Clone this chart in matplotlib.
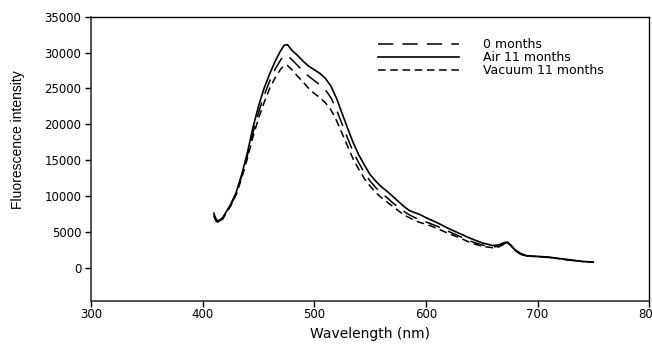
import matplotlib
matplotlib.use("Agg")
import matplotlib.pyplot as plt

wavelength = [410, 412, 414, 418, 425, 430, 435, 440, 445, 450, 455, 460, 465, 470, 473, 476,
              480, 485, 490, 495, 500, 505, 510, 515, 520, 525, 530, 535, 540, 545, 550, 555,
              560, 565, 570, 575, 580, 585, 590, 595, 600, 610, 620, 630, 640, 650, 660, 665,
              670, 673, 676, 680, 685, 690, 700, 710, 720, 730, 740, 750]

air_11 = [7600, 6800, 6500, 7000, 8800, 10500, 13000, 16000, 19500, 22500, 25000, 27000, 28800, 30300, 31000, 31100,
          30300, 29600, 28800, 28100, 27600, 27100, 26400, 25300, 23600, 21500, 19400, 17400, 15700, 14300, 13000, 12100,
          11300, 10700, 10000, 9300, 8600, 8000, 7700, 7400, 7000, 6300, 5500, 4800, 4100, 3500, 3100, 3200,
          3500, 3600, 3200, 2500, 2000, 1700, 1600, 1500, 1300, 1100, 900, 800]

zero_months = [7400, 6600, 6400, 6900, 8700, 10300, 12800, 15600, 18800, 21600, 24000, 26000, 27700, 29000, 29500, 29600,
               29000, 28200, 27400, 26700, 26100, 25500, 24800, 23700, 22000, 20000, 18000, 16100, 14600, 13200, 12100, 11200,
               10400, 9800, 9100, 8500, 7900, 7400, 7000, 6700, 6400, 5800, 5100, 4400, 3700, 3200, 2900, 3000,
               3400, 3500, 3100, 2400, 1900, 1650, 1550, 1450, 1250, 1050, 880, 780]

vacuum_11 = [7200, 6500, 6300, 6800, 8600, 10200, 12500, 15200, 18200, 20800, 23000, 25000, 26500, 27700, 28200, 28200,
             27600, 26700, 25900, 25000, 24300, 23700, 23000, 22000, 20500, 18700, 16900, 15100, 13700, 12400, 11400, 10500,
             9800, 9200, 8600, 8000, 7400, 7000, 6600, 6300, 6100, 5500, 4800, 4200, 3500, 3000, 2800, 2900,
             3300, 3500, 3100, 2400, 1900, 1650, 1550, 1450, 1250, 1050, 880, 780]

xticks = [300, 400, 500, 600, 700, 800]
yticks = [0, 5000, 10000, 15000, 20000, 25000, 30000, 35000]

plt.rcParams['font.family'] = ['DejaVu Sans']

fig = plt.figure(figsize=(6.52, 3.47), dpi=100)
ax = fig.add_axes([0.1396, 0.133, 0.856, 0.819])

ax.plot(wavelength, zero_months, color='black', lw=1.1, dashes=(10, 6), label='0 months')
ax.plot(wavelength, air_11, color='black', lw=1.2, label='Air 11 months')
ax.plot(wavelength, vacuum_11, color='black', lw=1.1, dashes=(5, 3), label='Vacuum 11 months')

ax.set_xlim(300, 800)
ax.set_ylim(-4600, 35000)
ax.set_xticks(xticks)
ax.set_yticks(yticks)
ax.set_xticklabels([str(v) for v in xticks])
ax.set_yticklabels([str(v) for v in yticks])
ax.tick_params(axis='y', direction='out', length=4, width=1, labelsize=8.5, pad=3)
ax.tick_params(axis='x', direction='out', length=4, width=1, labelsize=8.5, pad=1.5)

for s in ['left', 'bottom']:
    ax.spines[s].set_linewidth(1.2)
    ax.spines[s].set_color('#333333')
for s in ['top', 'right']:
    ax.spines[s].set_linewidth(1.0)

ax.set_xlabel('Wavelength (nm)', fontsize=10, labelpad=4)
ax.set_ylabel('Fluorescence intensity', fontsize=10,
              family=['Liberation Sans', 'DejaVu Sans'])
ax.yaxis.set_label_coords(-0.118, 0.566)

ax.legend(loc='upper left', bbox_to_anchor=(0.514, 0.925), frameon=False, fontsize=9,
          handlelength=6.5, handletextpad=1.9, labelspacing=0.0, borderpad=0, borderaxespad=0)

fig.savefig('out.png', dpi=100)
